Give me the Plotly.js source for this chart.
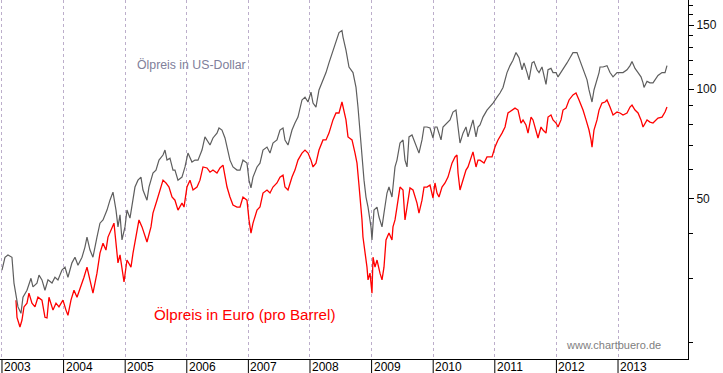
<!DOCTYPE html>
<html>
<head>
<meta charset="utf-8">
<script src="https://cdn.plot.ly/plotly-3.0.1.min.js"></script>
<style>html,body{margin:0;padding:0;background:#fff;}#chart{width:723px;height:373px;}</style>
</head>
<body>
<div id="chart"></div>
<script>
// Year labels on the time axis
const yearLabels = [2003, 2004, 2005, 2006, 2007, 2008, 2009, 2010, 2011, 2012, 2013];

// Oil price in US-Dollar (time in decimal years)
const usdTime = [
2003.000, 2003.049, 2003.097, 2003.162, 2003.195, 2003.227, 2003.260, 2003.308, 2003.341, 2003.406,
2003.471, 2003.503, 2003.568, 2003.601, 2003.649, 2003.698, 2003.747, 2003.812, 2003.860, 2003.909,
2003.974, 2004.023, 2004.071, 2004.136, 2004.185, 2004.234, 2004.299, 2004.347, 2004.380, 2004.429,
2004.477, 2004.542, 2004.591, 2004.640, 2004.705, 2004.753, 2004.802, 2004.851, 2004.883, 2004.916,
2004.948, 2004.997, 2005.029, 2005.078, 2005.127, 2005.159, 2005.208, 2005.256, 2005.289, 2005.354,
2005.386, 2005.451, 2005.500, 2005.549, 2005.614, 2005.646, 2005.679, 2005.727, 2005.776, 2005.808,
2005.857, 2005.922, 2005.971, 2006.019, 2006.084, 2006.133, 2006.182, 2006.247, 2006.295, 2006.328,
2006.377, 2006.425, 2006.490, 2006.523, 2006.571, 2006.620, 2006.653, 2006.701, 2006.750, 2006.815,
2006.864, 2006.912, 2006.977, 2007.010, 2007.042, 2007.075, 2007.140, 2007.188, 2007.237, 2007.302,
2007.351, 2007.399, 2007.464, 2007.513, 2007.562, 2007.594, 2007.643, 2007.708, 2007.756, 2007.805,
2007.870, 2007.919, 2007.968, 2008.016, 2008.049, 2008.097, 2008.146, 2008.211, 2008.260, 2008.308,
2008.373, 2008.422, 2008.471, 2008.519, 2008.536, 2008.584, 2008.633, 2008.698, 2008.747, 2008.779,
2008.812, 2008.844, 2008.877, 2008.909, 2008.942, 2008.990, 2009.006, 2009.039, 2009.088, 2009.120,
2009.169, 2009.201, 2009.250, 2009.282, 2009.331, 2009.347, 2009.380, 2009.412, 2009.461, 2009.510,
2009.542, 2009.575, 2009.607, 2009.656, 2009.705, 2009.737, 2009.769, 2009.818, 2009.851, 2009.899,
2009.948, 2009.997, 2010.029, 2010.062, 2010.094, 2010.127, 2010.159, 2010.224, 2010.273, 2010.321,
2010.370, 2010.403, 2010.435, 2010.484, 2010.532, 2010.565, 2010.630, 2010.646, 2010.695, 2010.727,
2010.760, 2010.808, 2010.873, 2010.922, 2010.971, 2011.036, 2011.084, 2011.133, 2011.198, 2011.247,
2011.295, 2011.344, 2011.393, 2011.442, 2011.474, 2011.523, 2011.555, 2011.604, 2011.636, 2011.685,
2011.718, 2011.766, 2011.799, 2011.831, 2011.864, 2011.912, 2011.945, 2011.994, 2012.026, 2012.075,
2012.107, 2012.172, 2012.221, 2012.269, 2012.334, 2012.383, 2012.432, 2012.497, 2012.529, 2012.578,
2012.610, 2012.659, 2012.692, 2012.708, 2012.756, 2012.821, 2012.870, 2012.919, 2012.984, 2013.032,
2013.081, 2013.146, 2013.195, 2013.227, 2013.276, 2013.325, 2013.373, 2013.406, 2013.422, 2013.471,
2013.519, 2013.568, 2013.617, 2013.649, 2013.714, 2013.763, 2013.795
];
const usdPrice = [
31.7, 34.4, 34.9, 34.4, 29.2, 26.7, 25.1, 24.1, 26.7, 27.9,
30.1, 28.5, 29.2, 30.7, 29.8, 27.9, 29.8, 29.2, 30.3, 29.8,
31.7, 32.3, 30.3, 33.2, 34.4, 32.7, 34.4, 36.7, 39.1, 36.0,
34.4, 39.1, 42.7, 43.6, 46.4, 49.4, 52.0, 46.4, 41.7, 45.0,
38.4, 41.7, 46.4, 44.1, 49.4, 53.7, 56.1, 57.2, 52.7, 49.4,
53.7, 58.7, 59.8, 63.7, 65.8, 67.9, 63.7, 64.5, 59.8, 59.8,
56.1, 57.2, 61.0, 66.6, 62.9, 63.7, 63.7, 67.9, 73.8, 72.4,
70.1, 73.3, 75.6, 78.1, 77.1, 73.3, 69.2, 63.7, 61.0, 59.8,
59.8, 63.7, 62.5, 56.1, 53.4, 57.2, 61.0, 62.5, 67.9, 69.2,
66.6, 71.0, 72.4, 77.1, 78.1, 72.4, 70.1, 77.1, 80.6, 83.7,
93.3, 95.0, 92.1, 98.1, 91.5, 89.2, 99.4, 106, 111, 118,
128, 136, 143, 145, 139, 128, 115, 111, 101, 89.2,
74.7, 63.7, 56.1, 50.4, 47.3, 41.7, 38.4, 46.4, 47.3, 44.4,
41.7, 45.5, 51.7, 53.7, 50.4, 53.7, 61.0, 63.7, 71.0, 72.4,
63.7, 61.0, 73.8, 74.7, 71.0, 69.2, 66.6, 72.4, 78.6, 78.6,
78.1, 73.3, 78.6, 78.6, 75.6, 72.4, 78.6, 80.6, 82.2, 86.4,
87.5, 78.6, 71.0, 75.6, 78.6, 73.8, 80.6, 82.2, 73.8, 78.6,
79.6, 83.7, 87.5, 89.2, 91.5, 95.0, 97.5, 101, 111, 116,
120, 126, 122, 113, 118, 111, 106, 118, 119, 113,
111, 115, 108, 103, 113, 114, 111, 111, 108, 111,
113, 118, 122, 126, 126, 120, 113, 106, 99.4, 92.1,
99.4, 106, 111, 115, 115, 116, 111, 108, 111, 111,
111, 113, 116, 119, 114, 111, 108, 104, 101, 105,
104, 104, 107, 109, 111, 111, 116
];

// Oil price in Euro per barrel (time in decimal years)
const eurTime = [
2003.227, 2003.244, 2003.292, 2003.325, 2003.357, 2003.406, 2003.438, 2003.487, 2003.536, 2003.584,
2003.649, 2003.698, 2003.731, 2003.763, 2003.828, 2003.877, 2003.925, 2003.990, 2004.039, 2004.071,
2004.120, 2004.169, 2004.218, 2004.282, 2004.331, 2004.380, 2004.429, 2004.477, 2004.542, 2004.591,
2004.640, 2004.688, 2004.721, 2004.786, 2004.818, 2004.851, 2004.883, 2004.916, 2004.948, 2004.981,
2005.029, 2005.094, 2005.127, 2005.175, 2005.224, 2005.273, 2005.305, 2005.354, 2005.419, 2005.451,
2005.516, 2005.565, 2005.614, 2005.662, 2005.711, 2005.760, 2005.808, 2005.857, 2005.922, 2005.955,
2006.003, 2006.052, 2006.101, 2006.166, 2006.214, 2006.263, 2006.328, 2006.377, 2006.425, 2006.490,
2006.539, 2006.588, 2006.620, 2006.653, 2006.701, 2006.750, 2006.815, 2006.864, 2006.912, 2006.977,
2007.010, 2007.042, 2007.075, 2007.140, 2007.188, 2007.237, 2007.302, 2007.351, 2007.399, 2007.464,
2007.513, 2007.562, 2007.594, 2007.643, 2007.708, 2007.756, 2007.805, 2007.870, 2007.919, 2007.968,
2008.016, 2008.049, 2008.097, 2008.146, 2008.211, 2008.260, 2008.308, 2008.373, 2008.422, 2008.471,
2008.519, 2008.536, 2008.584, 2008.617, 2008.682, 2008.731, 2008.763, 2008.795, 2008.828, 2008.844,
2008.860, 2008.893, 2008.925, 2008.942, 2008.974, 2009.006, 2009.023, 2009.055, 2009.088, 2009.136,
2009.169, 2009.201, 2009.234, 2009.282, 2009.331, 2009.347, 2009.380, 2009.412, 2009.461, 2009.510,
2009.542, 2009.575, 2009.623, 2009.672, 2009.705, 2009.737, 2009.769, 2009.818, 2009.851, 2009.899,
2009.948, 2009.997, 2010.029, 2010.062, 2010.094, 2010.143, 2010.192, 2010.240, 2010.305, 2010.354,
2010.386, 2010.403, 2010.435, 2010.484, 2010.532, 2010.565, 2010.630, 2010.646, 2010.695, 2010.727,
2010.760, 2010.825, 2010.873, 2010.955, 2011.003, 2011.052, 2011.117, 2011.166, 2011.214, 2011.279,
2011.328, 2011.377, 2011.425, 2011.458, 2011.506, 2011.539, 2011.588, 2011.620, 2011.669, 2011.701,
2011.750, 2011.782, 2011.831, 2011.864, 2011.912, 2011.945, 2011.994, 2012.026, 2012.075, 2012.107,
2012.156, 2012.205, 2012.269, 2012.318, 2012.367, 2012.432, 2012.481, 2012.529, 2012.562, 2012.578,
2012.610, 2012.659, 2012.692, 2012.740, 2012.789, 2012.821, 2012.870, 2012.919, 2012.984, 2013.032,
2013.081, 2013.146, 2013.195, 2013.227, 2013.276, 2013.325, 2013.373, 2013.406, 2013.471, 2013.519,
2013.568, 2013.617, 2013.649, 2013.714, 2013.763, 2013.795
];
const eurPrice = [
26.2, 23.5, 22.1, 23.1, 25.1, 25.7, 27.4, 25.7, 25.1, 26.7,
26.2, 23.5, 23.4, 26.7, 24.6, 25.7, 25.1, 26.2, 24.6, 23.8,
26.2, 27.9, 26.7, 28.5, 30.3, 32.3, 29.8, 27.4, 31.1, 35.3,
37.6, 36.0, 39.1, 41.7, 42.7, 37.6, 33.2, 34.9, 32.3, 29.4,
33.8, 32.3, 35.3, 39.1, 43.6, 41.7, 40.1, 37.9, 41.7, 45.5,
49.4, 52.7, 56.1, 55.1, 53.7, 50.4, 49.4, 46.4, 48.5, 47.3,
53.7, 56.1, 52.7, 53.7, 56.1, 61.0, 60.6, 59.0, 59.8, 58.7,
60.6, 61.7, 57.9, 53.7, 50.4, 47.9, 47.3, 47.3, 50.4, 49.4,
43.6, 40.1, 42.7, 46.4, 47.3, 51.7, 52.7, 51.7, 53.7, 55.1,
57.2, 57.9, 53.7, 52.7, 57.2, 59.8, 63.7, 66.6, 67.9, 66.6,
63.7, 61.0, 62.5, 67.9, 72.4, 72.4, 75.6, 82.2, 85.9, 85.9,
92.1, 89.2, 82.2, 73.8, 72.4, 66.6, 62.5, 54.4, 47.9, 43.6,
39.1, 36.0, 32.3, 29.8, 31.1, 27.4, 34.4, 32.3, 33.8, 31.1,
29.8, 32.3, 38.4, 40.1, 38.4, 41.7, 43.6, 47.3, 53.7, 52.7,
43.6, 47.3, 53.4, 52.7, 50.4, 48.5, 45.5, 49.4, 53.7, 53.7,
54.4, 50.1, 55.1, 51.7, 50.4, 53.7, 55.1, 57.2, 62.5, 65.0,
65.8, 58.7, 52.7, 56.1, 59.8, 61.0, 66.6, 67.1, 61.0, 63.7,
63.7, 62.5, 65.0, 65.0, 69.2, 72.4, 75.6, 78.6, 85.9, 87.5,
88.6, 87.5, 80.6, 82.2, 79.6, 75.6, 83.7, 82.2, 77.1, 73.3,
78.6, 77.1, 75.6, 83.7, 84.8, 82.2, 80.6, 78.6, 82.2, 87.5,
88.6, 93.3, 96.3, 97.5, 93.3, 87.5, 82.2, 77.1, 72.4, 69.2,
77.1, 82.2, 87.5, 91.5, 92.1, 93.3, 89.2, 84.8, 86.4, 85.9,
84.8, 85.9, 89.2, 90.3, 87.5, 85.9, 82.2, 78.6, 82.2, 81.1,
80.6, 82.2, 83.2, 83.7, 86.4, 89.2
];

// Price axis ticks
const yMajorTicks = [50, 100, 150];
const yMinorTicks = [20, 30, 40, 60, 70, 80, 90, 110, 120, 130, 140, 160, 170];

const FONT = 'Arial, "Liberation Sans", sans-serif';

const traces = [
  { x: eurTime, y: eurPrice, type: 'scatter', mode: 'lines',
    line: { color: '#ff0000', width: 1.3 }, hoverinfo: 'skip' },
  { x: usdTime, y: usdPrice, type: 'scatter', mode: 'lines',
    line: { color: '#5e5e5e', width: 1.2 }, hoverinfo: 'skip' }
];

const sepLen = 14 / 359;
const shapes = yearLabels.map(yr => ({
  type: 'line', xref: 'x', yref: 'paper', x0: yr, x1: yr, y0: 0, y1: -sepLen,
  line: { color: '#000', width: 1 }
}));

const annotations = yearLabels.map(yr => ({
  x: yr, xref: 'x', y: 0, yref: 'paper', text: String(yr), showarrow: false,
  xanchor: 'left', yanchor: 'top', xshift: 0, yshift: 1,
  font: { family: FONT, size: 12, color: '#000' }
}));
annotations.push(
  { x: 135 / 688, y: 1 - 65 / 359, xref: 'paper', yref: 'paper', text: 'Ölpreis in US-Dollar',
    showarrow: false, xanchor: 'left', yanchor: 'middle',
    font: { family: FONT, size: 12.3, color: '#80809a' } },
  { x: 152 / 688, y: 1 - 314 / 359, xref: 'paper', yref: 'paper', text: 'Ölpreis in Euro (pro Barrel)',
    showarrow: false, xanchor: 'left', yanchor: 'middle',
    font: { family: FONT, size: 15.2, color: '#ff0000' } },
  { x: 564 / 688, y: 1 - 345 / 359, xref: 'paper', yref: 'paper', text: 'www.chartbuero.de',
    showarrow: false, xanchor: 'left', yanchor: 'middle',
    font: { family: FONT, size: 11, color: '#808080' } }
);

const layout = {
  width: 723, height: 373,
  margin: { l: 0, r: 35, t: 0, b: 14, pad: 0 },
  paper_bgcolor: '#fff', plot_bgcolor: '#fff',
  showlegend: false,
  xaxis: {
    type: 'linear',
    range: [2002.968, 2014.136],
    tickvals: yearLabels,
    showticklabels: false,
    ticks: '',
    showgrid: true, gridcolor: '#bcaecb', griddash: '3px,3px', gridwidth: 1,
    zeroline: false,
    showline: true, linecolor: '#000', linewidth: 1
  },
  yaxis: {
    type: 'log',
    side: 'right',
    range: [Math.log10(18.04), Math.log10(175.9)],
    tickvals: yMajorTicks,
    ticktext: yMajorTicks.map(String),
    ticks: 'outside', ticklen: 5, tickcolor: '#000', tickwidth: 1,
    showgrid: false, zeroline: false,
    showline: true, linecolor: '#000', linewidth: 1,
    tickfont: { family: FONT, size: 12, color: '#111' },
    minor: { tickvals: yMinorTicks, ticks: 'outside', ticklen: 4, tickcolor: '#000', showgrid: false }
  },
  shapes: shapes,
  annotations: annotations
};

Plotly.newPlot('chart', traces, layout, { staticPlot: true, displayModeBar: false });
</script>
</body>
</html>
